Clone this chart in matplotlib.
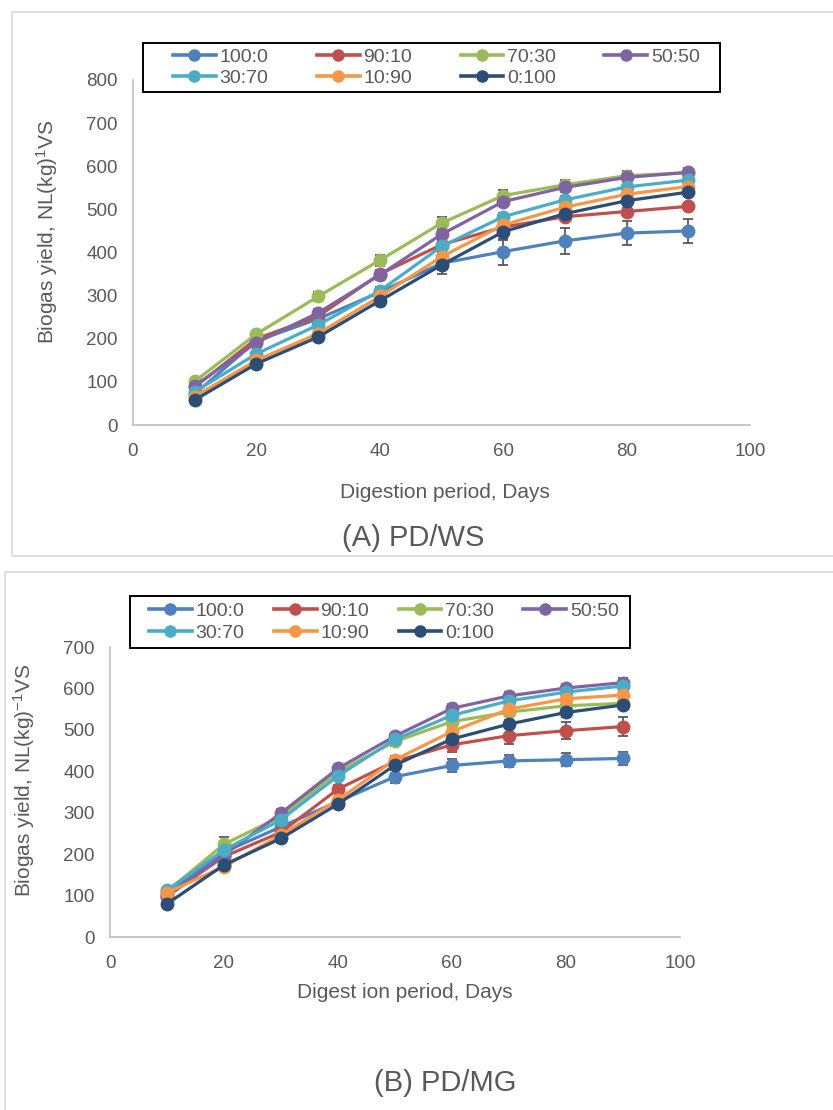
"""
Biogas yield vs digestion period, two panels (PD/WS, PD/MG)
"""
import numpy as np
import matplotlib

matplotlib.use("Agg")
import matplotlib.pyplot as plt
from matplotlib.patches import Rectangle
from matplotlib.lines import Line2D

plt.rcParams["font.family"] = ["Liberation Sans", "DejaVu Sans"]
plt.rcParams["mathtext.fontset"] = "custom"
plt.rcParams["mathtext.rm"] = "Liberation Sans"
plt.rcParams["mathtext.it"] = "Liberation Sans:italic"

GREY = "#595959"

days = [10, 20, 30, 40, 50, 60, 70, 80, 90]
ratios = ["100:0", "90:10", "70:30", "50:50", "30:70", "10:90", "0:100"]
colors = ["#4F81BD", "#C0504D", "#9BBB59", "#8064A2", "#4BACC6", "#F79646", "#2C4D75"]

# (A) PD/WS
ws_100_0 = [72, 195, 246, 308, 375, 402, 427, 445, 450]
ws_90_10 = [88, 200, 252, 350, 418, 459, 483, 495, 507]
ws_70_30 = [101, 211, 298, 382, 468, 532, 557, 578, 585]
ws_50_50 = [91, 191, 260, 348, 442, 518, 551, 574, 586]
ws_30_70 = [77, 165, 232, 311, 414, 483, 522, 552, 568]
ws_10_90 = [66, 150, 212, 298, 390, 464, 505, 535, 553]
ws_0_100 = [58, 142, 204, 288, 371, 448, 490, 520, 540]
ws_err = [
    [5, 8, 10, 12, 25, 30, 30, 28, 27],
    [5, 6, 8, 10, 10, 10, 10, 8, 8],
    [5, 6, 10, 13, 15, 12, 10, 10, 8],
    [5, 6, 10, 12, 12, 10, 10, 8, 10],
    [5, 6, 8, 10, 10, 8, 8, 8, 8],
    [5, 6, 8, 8, 10, 8, 8, 8, 8],
    [5, 6, 8, 10, 12, 20, 10, 8, 8],
]

# (B) PD/MG
mg_100_0 = [105, 205, 266, 327, 387, 414, 425, 428, 431]
mg_90_10 = [100, 194, 253, 357, 424, 464, 486, 498, 508]
mg_70_30 = [110, 224, 291, 399, 472, 520, 543, 558, 564]
mg_50_50 = [97, 198, 299, 407, 485, 552, 582, 601, 614]
mg_30_70 = [113, 210, 283, 389, 477, 535, 570, 591, 606]
mg_10_90 = [107, 170, 246, 331, 428, 496, 550, 575, 584]
mg_0_100 = [80, 174, 238, 321, 415, 478, 514, 542, 560]
mg_err = [
    [6, 8, 10, 10, 15, 15, 15, 15, 15],
    [6, 8, 10, 10, 12, 18, 20, 20, 22],
    [6, 18, 10, 10, 10, 10, 10, 10, 10],
    [6, 8, 10, 8, 8, 10, 10, 10, 12],
    [6, 8, 8, 8, 8, 8, 8, 8, 8],
    [6, 10, 8, 8, 8, 8, 8, 8, 8],
    [6, 10, 10, 10, 20, 10, 10, 10, 10],
]

ws_series = [ws_100_0, ws_90_10, ws_70_30, ws_50_50, ws_30_70, ws_10_90, ws_0_100]
mg_series = [mg_100_0, mg_90_10, mg_70_30, mg_50_50, mg_30_70, mg_10_90, mg_0_100]

W, H = 833, 1110
fig = plt.figure(figsize=(W / 100, H / 100), dpi=100)


def px_rect(x0, y0, x1, y1, **kw):
    # rectangle given in pixel coords (origin top-left)
    fig.patches.append(Rectangle((x0 / W, 1 - y1 / H), (x1 - x0) / W, (y1 - y0) / H,
                                 transform=fig.transFigure, fill=False, **kw))


# panel frames
px_rect(12, 12, 840, 556, edgecolor="#D9D9D9", linewidth=1.2)
px_rect(5, 572, 840, 1115, edgecolor="#D9D9D9", linewidth=1.2)

# legend fills columns first -> reorder so rows read left to right
LEG_ORDER = [0, 4, 1, 5, 2, 6, 3]


def draw_panel(rect, series, errs, ymax, ylab, ylab_pos, xlab, xlab_pos,
               title, title_pos, leg_box, leg_inner):
    l, t, r, b = rect
    ax = fig.add_axes([l / W, 1 - b / H, (r - l) / W, (b - t) / H])
    for vals, err, c in zip(series, errs, colors):
        ax.errorbar(days, vals, yerr=err, color=c, lw=2.3, marker="o", ms=9,
                    ecolor=GREY, elinewidth=1.3, capsize=3.5, capthick=1.3)
    ax.set_xlim(0, 100)
    ax.set_ylim(0, ymax)
    ax.set_xticks(np.arange(0, 101, 20))
    ax.set_yticks(np.arange(0, ymax + 1, 100))
    for s in ("top", "right"):
        ax.spines[s].set_visible(False)
    for s in ("left", "bottom"):
        ax.spines[s].set_color("#BFBFBF")
        ax.spines[s].set_linewidth(1.2)
    ax.tick_params(length=0, labelsize=13.5, colors=GREY)
    ax.tick_params(axis="x", pad=13)
    ax.tick_params(axis="y", pad=11)

    fig.text(ylab_pos[0] / W, 1 - ylab_pos[1] / H, ylab, rotation=90,
             ha="center", va="center", fontsize=15, color=GREY)
    fig.text(xlab_pos[0] / W, 1 - xlab_pos[1] / H, xlab, ha="center",
             va="center", fontsize=15, color=GREY)
    fig.text(title_pos[0] / W, 1 - title_pos[1] / H, title, ha="center",
             va="center", fontsize=21, color=GREY)

    # legend box drawn separately, entries spread over the inner span
    lx0, ly0, lx1, ly1 = leg_box
    px_rect(lx0, ly0, lx1, ly1, edgecolor="black", linewidth=1.4, zorder=5)
    handles = [Line2D([], [], color=colors[i], lw=2.6, marker="o", ms=8)
               for i in LEG_ORDER]
    labels = [ratios[i] for i in LEG_ORDER]
    ix0, ix1 = leg_inner
    leg = ax.legend(handles, labels, loc="center", ncol=4, mode="expand",
                    bbox_to_anchor=(ix0 / W, 1 - ly1 / H, (ix1 - ix0) / W, (ly1 - ly0) / H),
                    bbox_transform=fig.transFigure, frameon=False,
                    handlelength=2.2, handletextpad=0.2, borderpad=0,
                    labelspacing=0.2, borderaxespad=0, fontsize=14)
    for txt in leg.get_texts():
        txt.set_color(GREY)
    return ax


draw_panel((133, 80, 750, 425), ws_series, ws_err, 800,
           r"Biogas yield, NL(kg)$^{1}$VS", (47, 232),
           "Digestion period, Days", (445, 493),
           "(A) PD/WS", (413, 538), (143, 43, 720, 92), (173, 700))
draw_panel((110, 647, 680, 937), mg_series, mg_err, 700,
           r"Biogas yield, NL(kg)$^{-1}$VS", (24, 780),
           "Digest ion period, Days", (405, 993),
           "(B) PD/MG", (445, 1083), (130, 596, 630, 648), (149, 619))

fig.savefig("out.png", dpi=100)
